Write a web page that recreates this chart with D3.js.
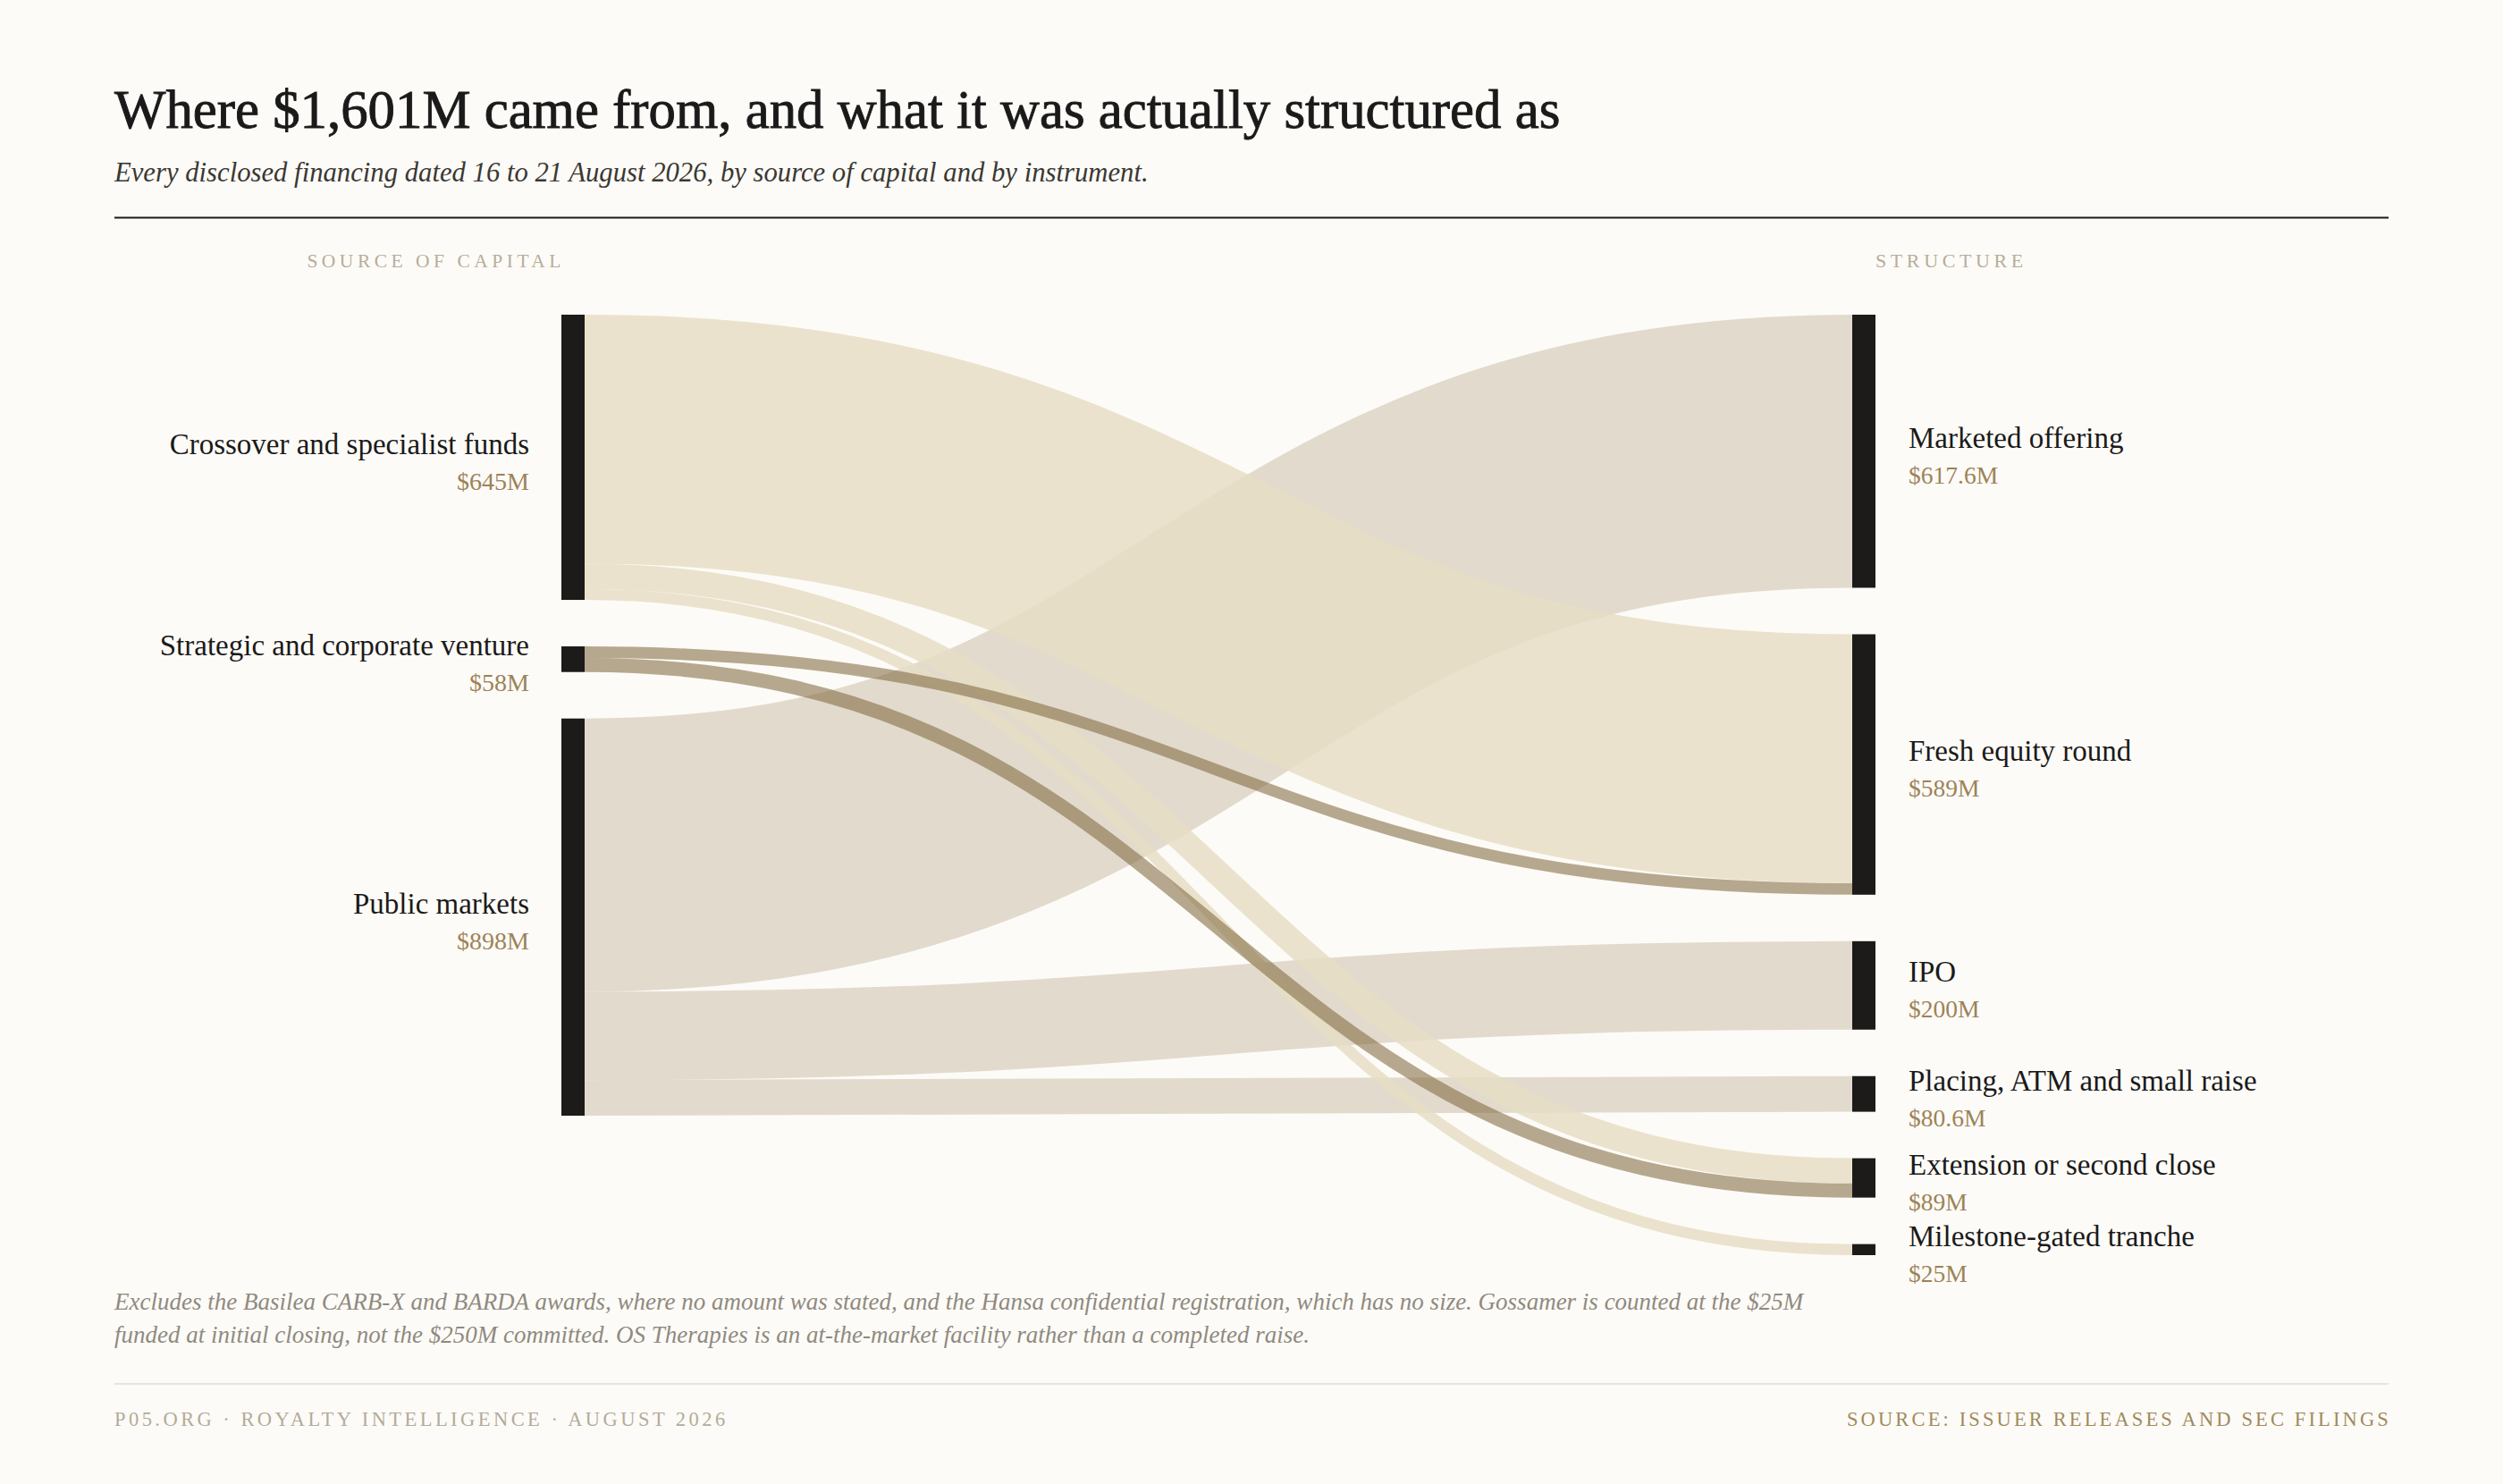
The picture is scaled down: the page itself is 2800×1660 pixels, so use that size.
<!DOCTYPE html>
<html>
<head>
<meta charset="utf-8">
<script src="https://cdn.jsdelivr.net/npm/d3@7"></script>
<style>
  body { margin: 0; background: #fdfbf7; }
  text { font-family: "Liberation Serif", "DejaVu Serif", serif; }
</style>
</head>
<body>
<div id="chart"></div>
<script>
// Sources on the left, structures on the right
const sources = ["Crossover and specialist funds", "Strategic and corporate venture", "Public markets"];
const sourceLabels = ["$645M", "$58M", "$898M"];
const structures = ["Marketed offering", "Fresh equity round", "IPO", "Placing, ATM and small raise",
  "Extension or second close", "Milestone-gated tranche"];
const structureLabels = ["$617.6M", "$589M", "$200M", "$80.6M", "$89M", "$25M"];

// flows: source, structure, $M
const flowSource = [0, 0, 0, 1, 1, 2, 2, 2];
const flowTarget = [1, 4, 5, 1, 4, 0, 2, 3];
const flowValue  = [563, 57, 25, 26, 32, 617.6, 200, 80.6];

const sourceColors = ["#e6ddc4", "#7b6538", "#ddd4c4"];
const sourceOpacity = [0.85, 0.55, 0.85];
const drawOrder = [1, 2, 0]; // public first, strategic on top

const W = 2800, H = 1660;
const margin = { left: 128, right: 128 };
const nodeTop = 352, nodeW = 26, pad = 52;

const svg = d3.select("#chart").append("svg")
  .attr("width", W).attr("height", H);

svg.append("rect").attr("width", W).attr("height", H).attr("fill", "#fdfbf7");

// header
svg.append("text").attr("x", margin.left).attr("y", 143)
  .attr("font-size", 60.8).attr("fill", "#1a1a1a")
  .attr("stroke", "#1a1a1a").attr("stroke-width", 0.9)
  .text("Where $1,601M came from, and what it was actually structured as");

svg.append("text").attr("x", margin.left).attr("y", 203)
  .attr("font-size", 30.7).attr("font-style", "italic").attr("fill", "#3a3834")
  .text("Every disclosed financing dated 16 to 21 August 2026, by source of capital and by instrument.");

svg.append("line").attr("x1", margin.left).attr("x2", W - margin.right)
  .attr("y1", 243.5).attr("y2", 243.5).attr("stroke", "#1a1a1a").attr("stroke-width", 2);

// totals per node
const srcTotals = sources.map((s, i) => d3.sum(flowValue.filter((v, k) => flowSource[k] === i)));
const tgtTotals = structures.map((s, i) => d3.sum(flowValue.filter((v, k) => flowTarget[k] === i)));
const grand = d3.sum(flowValue);

// vertical scale fitted to the taller (right) column
const usable = 1052 - pad * (structures.length - 1);
const h = d3.scaleLinear().domain([0, grand]).range([0, usable]);
const col = d3.scaleLinear().domain([0, 1]).range([628, 2072]);

function stack(totals) {
  let y = nodeTop;
  return totals.map(v => {
    const n = { y0: y, y1: y + h(v) };
    y = n.y1 + pad;
    return n;
  });
}
const srcNodes = stack(srcTotals);
const tgtNodes = stack(tgtTotals);

// link positions within nodes
const links = flowValue.map((v, k) => ({ s: flowSource[k], t: flowTarget[k], v }));
srcNodes.forEach((n, i) => {
  let y = n.y0;
  links.filter(l => l.s === i).sort((a, b) => a.t - b.t).forEach(l => { l.ys = y + h(l.v) / 2; y += h(l.v); });
});
tgtNodes.forEach((n, i) => {
  let y = n.y0;
  links.filter(l => l.t === i).sort((a, b) => a.s - b.s).forEach(l => { l.yt = y + h(l.v) / 2; y += h(l.v); });
});

const linkPath = d3.linkHorizontal()
  .source(d => [col(0) + nodeW, d.ys])
  .target(d => [col(1), d.yt]);

svg.append("g").attr("fill", "none")
  .selectAll("path").data(links.slice().sort((a, b) => drawOrder[a.s] - drawOrder[b.s])).join("path")
  .attr("d", linkPath)
  .attr("stroke", d => sourceColors[d.s])
  .attr("stroke-opacity", d => sourceOpacity[d.s])
  .attr("stroke-width", d => h(d.v));

// nodes
svg.append("g").selectAll("rect").data(srcNodes).join("rect")
  .attr("x", col(0)).attr("y", d => d.y0).attr("width", nodeW)
  .attr("height", d => d.y1 - d.y0).attr("fill", "#1c1b19");
svg.append("g").selectAll("rect").data(tgtNodes).join("rect")
  .attr("x", col(1)).attr("y", d => d.y0).attr("width", nodeW)
  .attr("height", d => d.y1 - d.y0).attr("fill", "#1c1b19");

// column headers
svg.append("text").attr("x", col(0) + 4).attr("y", 299).attr("text-anchor", "end")
  .attr("font-size", 21.5).attr("letter-spacing", 4.5).attr("fill", "#b7ad9a")
  .text("SOURCE OF CAPITAL");
svg.append("text").attr("x", col(1) + nodeW).attr("y", 299)
  .attr("font-size", 22).attr("letter-spacing", 4.6).attr("fill", "#b7ad9a")
  .text("STRUCTURE");

// node labels
const srcLab = svg.append("g").attr("text-anchor", "end");
srcNodes.forEach((n, i) => {
  const c = (n.y0 + n.y1) / 2;
  srcLab.append("text").attr("x", col(0) - 36).attr("y", c - 4)
    .attr("font-size", 33).attr("fill", "#1a1a1a").text(sources[i]);
  srcLab.append("text").attr("x", col(0) - 36).attr("y", c + 36)
    .attr("font-size", 28).attr("fill", "#9c8358").text(sourceLabels[i]);
});
const tgtLab = svg.append("g");
tgtNodes.forEach((n, i) => {
  const c = (n.y0 + n.y1) / 2;
  tgtLab.append("text").attr("x", col(1) + nodeW + 37).attr("y", c - 4)
    .attr("font-size", 33).attr("fill", "#1a1a1a").text(structures[i]);
  tgtLab.append("text").attr("x", col(1) + nodeW + 37).attr("y", c + 36)
    .attr("font-size", 27.5).attr("fill", "#9c8358").text(structureLabels[i]);
});

// footnote
const note = svg.append("text").attr("font-size", 27).attr("font-style", "italic").attr("fill", "#8f8a80");
note.append("tspan").attr("x", margin.left).attr("y", 1465)
  .text("Excludes the Basilea CARB-X and BARDA awards, where no amount was stated, and the Hansa confidential registration, which has no size. Gossamer is counted at the $25M");
note.append("tspan").attr("x", margin.left).attr("y", 1502)
  .text("funded at initial closing, not the $250M committed. OS Therapies is an at-the-market facility rather than a completed raise.");

// footer
svg.append("line").attr("x1", margin.left).attr("x2", W - margin.right)
  .attr("y1", 1548).attr("y2", 1548).attr("stroke", "#e2ddd2").attr("stroke-width", 1.5);
svg.append("text").attr("x", margin.left).attr("y", 1595)
  .attr("font-size", 22.5).attr("letter-spacing", 3.45).attr("fill", "#b3ab9a")
  .text("P05.ORG · ROYALTY INTELLIGENCE · AUGUST 2026");
svg.append("text").attr("x", W - margin.right + 3).attr("y", 1595).attr("text-anchor", "end")
  .attr("font-size", 22.5).attr("letter-spacing", 3.13).attr("fill", "#a08a5c")
  .text("SOURCE: ISSUER RELEASES AND SEC FILINGS");
</script>
</body>
</html>
